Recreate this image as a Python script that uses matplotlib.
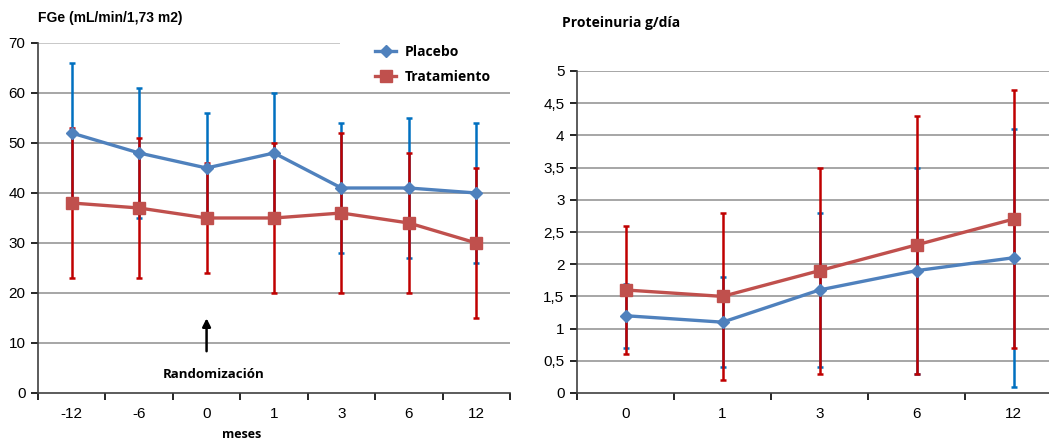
import matplotlib.pyplot as plt
import numpy as np

# FGe panel
fge_meses = ["-12", "-6", "0", "1", "3", "6", "12"]
fge_placebo = [52, 48, 45, 48, 41, 41, 40]
fge_placebo_err = [14, 13, 11, 12, 13, 14, 14]
fge_trat = [38, 37, 35, 35, 36, 34, 30]
fge_trat_err = [15, 14, 11, 15, 16, 14, 15]

# Proteinuria panel
prot_meses = ["0", "1", "3", "6", "12"]
prot_placebo = [1.2, 1.1, 1.6, 1.9, 2.1]
prot_placebo_err = [0.5, 0.7, 1.2, 1.6, 2.0]
prot_trat = [1.6, 1.5, 1.9, 2.3, 2.7]
prot_trat_err = [1.0, 1.3, 1.6, 2.0, 2.0]

plt.rcParams['font.family'] = ['Liberation Sans', 'DejaVu Sans']

BLUE = "#4F81BD"
BLUE_ERR = "#0070C0"
RED = "#C0504D"
RED_ERR = "#C00000"
GRID = "#A6A6A6"
LEG_FONT = ["Open Sans", "DejaVu Sans"]


def draw_panel(ax, cats, plac, plac_err, trat, trat_err, ymax, ystep, grid_top=True):
	x = np.arange(len(cats))
	ax.errorbar(x, plac, yerr=plac_err, fmt="none", ecolor=BLUE_ERR,
				elinewidth=1.8, capsize=2, capthick=1.8, zorder=3)
	ax.errorbar(x, trat, yerr=trat_err, fmt="none", ecolor=RED_ERR,
				elinewidth=1.8, capsize=2, capthick=1.8, zorder=4)
	ax.plot(x, trat, color=RED, lw=2.4, marker="s", ms=8, zorder=5, label="Tratamiento")
	ax.plot(x, plac, color=BLUE, lw=2.4, marker="D", ms=6, zorder=6, label="Placebo")

	ax.set_xlim(-0.5, len(cats) - 0.5)
	ax.set_ylim(0, ymax)
	yt = np.arange(0, ymax + ystep / 2, ystep)
	ax.set_yticks(yt)
	# horizontal grid drawn by hand so the top line can be cut short
	rows = yt[1:] if grid_top else yt[1:-1]
	ax.hlines(rows, -0.5, len(cats) - 0.5, color=GRID, lw=1.4, zorder=1)

	# ticks on category boundaries, labels centred
	ax.set_xticks(np.arange(len(cats) + 1) - 0.5)
	ax.set_xticklabels([])
	ax.set_xticks(x, minor=True)
	ax.set_xticklabels(cats, minor=True)
	ax.tick_params(axis="x", which="major", length=5, width=1.2, direction="out")
	ax.tick_params(axis="x", which="minor", length=0, pad=10, labelsize=11)
	ax.tick_params(axis="y", length=5, width=1.2, labelsize=11, pad=4)

	for s in ["top", "right"]:
		ax.spines[s].set_visible(False)
	for s in ["left", "bottom"]:
		ax.spines[s].set_color("#404040")
		ax.spines[s].set_linewidth(1.2)


fig = plt.figure(figsize=(10.49, 4.41), dpi=100)

ax1 = fig.add_axes([38 / 1049, 1 - 393 / 441, 472 / 1049, 350 / 441])
draw_panel(ax1, fge_meses, fge_placebo, fge_placebo_err, fge_trat, fge_trat_err, 70, 10,
		   grid_top=False)
# top gridline stops where the legend starts
ax1.hlines(70, -0.5, 3.98, color="#C8C8C8", lw=1.4, zorder=1)

ax1.annotate("", xy=(2, 15.5), xytext=(2, 7.8),
			 arrowprops=dict(arrowstyle="-|>", color="black", lw=1.8, mutation_scale=12))
ax1.text(2.1, 3.8, "Randomización", ha="center", va="center",
		 fontsize=9.5, fontweight="bold", family=LEG_FONT)

handles, labels = ax1.get_legend_handles_labels()
leg = fig.legend(handles[::-1], labels[::-1], loc="upper left",
				 bbox_to_anchor=(364 / 1049, 1 - 34 / 441),
				 frameon=False, handlelength=1.5, handletextpad=0.6,
				 labelspacing=0.8, borderpad=0.3,
				 prop=dict(family=LEG_FONT, weight="bold", size=10))

fig.text(38 / 1049, 1 - 18 / 441, "FGe (mL/min/1,73 m2)", ha="left", va="center",
		 fontsize=10, fontweight="bold")
fig.text(242 / 1049, 1 - 434 / 441, "meses", ha="center", va="center",
		 fontsize=9, fontweight="bold", family=LEG_FONT)

ax2 = fig.add_axes([577 / 1049, 1 - 393 / 441, 485 / 1049, 322 / 441])
draw_panel(ax2, prot_meses, prot_placebo, prot_placebo_err, prot_trat, prot_trat_err, 5, 0.5)
ax2.set_yticklabels([("%g" % v).replace(".", ",") for v in np.arange(0, 5.25, 0.5)])

fig.text(562 / 1049, 1 - 23 / 441, "Proteinuria g/día", ha="left", va="center",
		 fontsize=10, fontweight="bold", family=LEG_FONT)

fig.savefig("out.png", dpi=100)
